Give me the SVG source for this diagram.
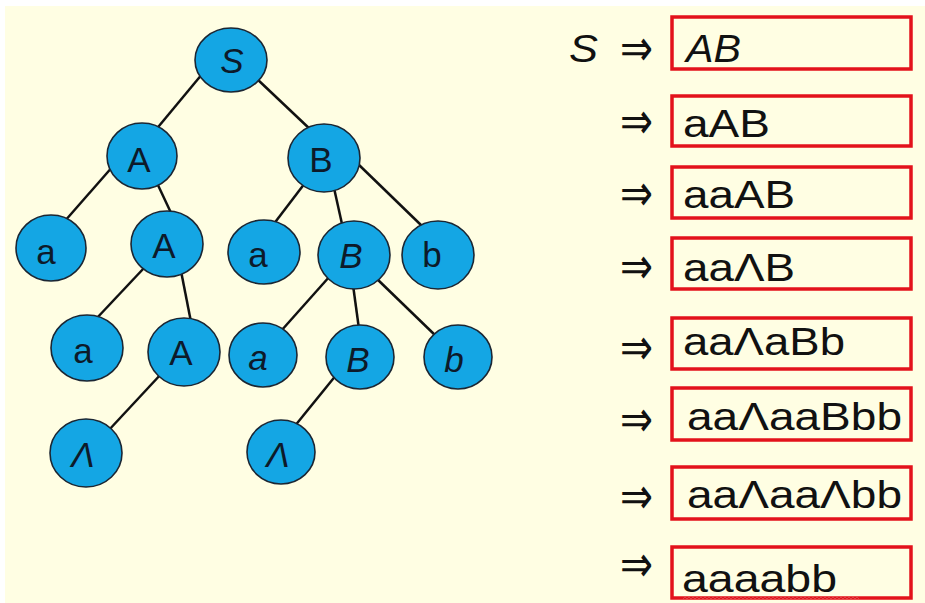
<svg xmlns="http://www.w3.org/2000/svg" width="925" height="603" viewBox="0 0 925 603">
<style>
.node{fill:#14a6e4;stroke:#1b2633;stroke-width:1.6}
.nl{font-family:"Liberation Sans",Arial,sans-serif;font-size:35px;fill:#0d1a2a;text-anchor:middle}
.it{font-style:italic}
.edge{stroke:#111;stroke-width:2.5;fill:none}
.box{fill:none;stroke:#e3121b;stroke-width:3.5}
.dv{font-family:"Liberation Sans",Arial,sans-serif;font-size:38px;fill:#111}
.arr{font-family:"DejaVu Sans",sans-serif;fill:#111}
</style>
<rect x="0" y="0" width="925" height="603" fill="#ffffff"/>
<rect x="5" y="6" width="920" height="597" fill="#fffee3"/>
<g id="connectors">
<line class="edge" x1="203" y1="73" x2="154" y2="132"/>
<line class="edge" x1="256" y1="78" x2="312" y2="131"/>
<line class="edge" x1="114" y1="165" x2="64" y2="222"/>
<line class="edge" x1="157" y1="183" x2="172" y2="215"/>
<line class="edge" x1="305" y1="183" x2="273" y2="225"/>
<line class="edge" x1="334" y1="188" x2="342" y2="224"/>
<line class="edge" x1="357" y1="163" x2="422" y2="226"/>
<line class="edge" x1="144" y1="268" x2="96" y2="319"/>
<line class="edge" x1="181" y1="271" x2="191" y2="322"/>
<line class="edge" x1="330" y1="276" x2="281" y2="331"/>
<line class="edge" x1="353" y1="285" x2="359" y2="329"/>
<line class="edge" x1="376" y1="278" x2="437" y2="337"/>
<line class="edge" x1="162" y1="373" x2="108" y2="431"/>
<line class="edge" x1="337" y1="374" x2="294" y2="427"/>
</g>
<g id="n_S"><ellipse class="node" cx="231" cy="60" rx="36" ry="32"/><text class="nl it" x="232" y="73">S</text></g>
<g id="n_A1"><ellipse class="node" cx="142" cy="156" rx="35" ry="33"/><text class="nl" x="139" y="172">A</text></g>
<g id="n_B1"><ellipse class="node" cx="324" cy="158" rx="36" ry="34"/><text class="nl" x="321" y="172">B</text></g>
<g id="n_a2"><ellipse class="node" cx="51" cy="248" rx="35" ry="33"/><text class="nl" x="46" y="264">a</text></g>
<g id="n_A2"><ellipse class="node" cx="167" cy="244" rx="36" ry="33"/><text class="nl" x="164" y="258">A</text></g>
<g id="n_a2b"><ellipse class="node" cx="264" cy="252" rx="36" ry="32"/><text class="nl" x="258" y="267">a</text></g>
<g id="n_B2"><ellipse class="node" cx="354" cy="255" rx="36" ry="34"/><text class="nl it" x="351" y="268">B</text></g>
<g id="n_b2"><ellipse class="node" cx="438" cy="255" rx="36" ry="34"/><text class="nl" x="432" y="267">b</text></g>
<g id="n_a3"><ellipse class="node" cx="87" cy="348" rx="36" ry="33"/><text class="nl" x="83" y="363">a</text></g>
<g id="n_A3"><ellipse class="node" cx="184" cy="352" rx="36" ry="34"/><text class="nl" x="181" y="365">A</text></g>
<g id="n_a3b"><ellipse class="node" cx="263" cy="355" rx="34" ry="32"/><text class="nl it" x="258" y="370">a</text></g>
<g id="n_B3"><ellipse class="node" cx="360" cy="357" rx="34" ry="32"/><text class="nl it" x="358" y="372">B</text></g>
<g id="n_b3"><ellipse class="node" cx="458" cy="357" rx="34" ry="32"/><text class="nl it" x="454" y="372">b</text></g>
<g id="n_L1"><ellipse class="node" cx="86" cy="453" rx="36" ry="34"/><text class="nl it" x="83" y="467" font-size="32">Λ</text></g>
<g id="n_L2"><ellipse class="node" cx="281" cy="452" rx="34" ry="32"/><text class="nl it" x="278" y="467" font-size="32">Λ</text></g>
<g id="derivation">
<text x="569" y="62" class="dv it" font-size="44" textLength="29" lengthAdjust="spacingAndGlyphs">S</text>
<text class="arr" x="620" y="66" font-size="52" textLength="33" lengthAdjust="spacingAndGlyphs">⇒</text>
<text class="arr" x="620" y="139" font-size="52" textLength="33" lengthAdjust="spacingAndGlyphs">⇒</text>
<text class="arr" x="620" y="211" font-size="52" textLength="33" lengthAdjust="spacingAndGlyphs">⇒</text>
<text class="arr" x="620" y="284" font-size="52" textLength="33" lengthAdjust="spacingAndGlyphs">⇒</text>
<text class="arr" x="620" y="365" font-size="52" textLength="33" lengthAdjust="spacingAndGlyphs">⇒</text>
<text class="arr" x="620" y="437" font-size="52" textLength="33" lengthAdjust="spacingAndGlyphs">⇒</text>
<text class="arr" x="620" y="514" font-size="52" textLength="33" lengthAdjust="spacingAndGlyphs">⇒</text>
<text class="arr" x="620" y="582" font-size="52" textLength="33" lengthAdjust="spacingAndGlyphs">⇒</text>
<rect class="box" x="672" y="17" width="239" height="52"/>
<rect class="box" x="672" y="96" width="239" height="50"/>
<rect class="box" x="672" y="167" width="239" height="51"/>
<rect class="box" x="672" y="238" width="239" height="51"/>
<rect class="box" x="672" y="318" width="239" height="51"/>
<rect class="box" x="672" y="388" width="239" height="52"/>
<rect class="box" x="672" y="467" width="239" height="52"/>
<rect class="box" x="672" y="547" width="239" height="51"/>
<text class="dv it" x="686" y="62" font-size="42" textLength="55" lengthAdjust="spacingAndGlyphs">AB</text>
<text class="dv" x="683" y="137" textLength="87" lengthAdjust="spacingAndGlyphs">aAB</text>
<text class="dv" x="683" y="208" textLength="112" lengthAdjust="spacingAndGlyphs">aaAB</text>
<text class="dv" x="683" y="281" textLength="112" lengthAdjust="spacingAndGlyphs">aaΛB</text>
<text class="dv" x="683" y="355" textLength="162" lengthAdjust="spacingAndGlyphs">aaΛaBb</text>
<text class="dv" x="687" y="430" textLength="215" lengthAdjust="spacingAndGlyphs">aaΛaaBbb</text>
<text class="dv" x="687" y="508" textLength="215" lengthAdjust="spacingAndGlyphs">aaΛaaΛbb</text>
<text class="dv" x="682" y="592" textLength="155" lengthAdjust="spacingAndGlyphs">aaaabb</text>
<path d="M683 599 l2 -2 l2 2 l2 -2 l2 2 l2 -2 l2 2 l2 -2 l2 2 l2 -2 l2 2 l2 -2 l2 2 l2 -2 l2 2 l2 -2 l2 2 l2 -2 l2 2 l2 -2 l2 2 l2 -2 l2 2 l2 -2 l2 2 l2 -2 l2 2 l2 -2 l2 2 l2 -2 l2 2 l2 -2 l2 2 l2 -2 l2 2 l2 -2 l2 2 l2 -2 l2 2 l2 -2 l2 2 l2 -2 l2 2 l2 -2 l2 2 l2 -2 l2 2 l2 -2 l2 2 l2 -2 l2 2 l2 -2 l2 2 l2 -2 l2 2 l2 -2 l2 2 l2 -2 l2 2 l2 -2 l2 2 l2 -2 l2 2 l2 -2 l2 2 l2 -2 l2 2 l2 -2 l2 2 l2 -2 l2 2 l2 -2 l2 2 l2 -2 l2 2 l2 -2 l2 2 l2 -2 l2 2 l2 -2 l2 2 l2 -2 l2 2 l2 -2 l2 2 l2 -2 l2 2 l2 -2 l2 2" fill="none" stroke="#e05050" stroke-width="0.8"/>
</g>
</svg>
